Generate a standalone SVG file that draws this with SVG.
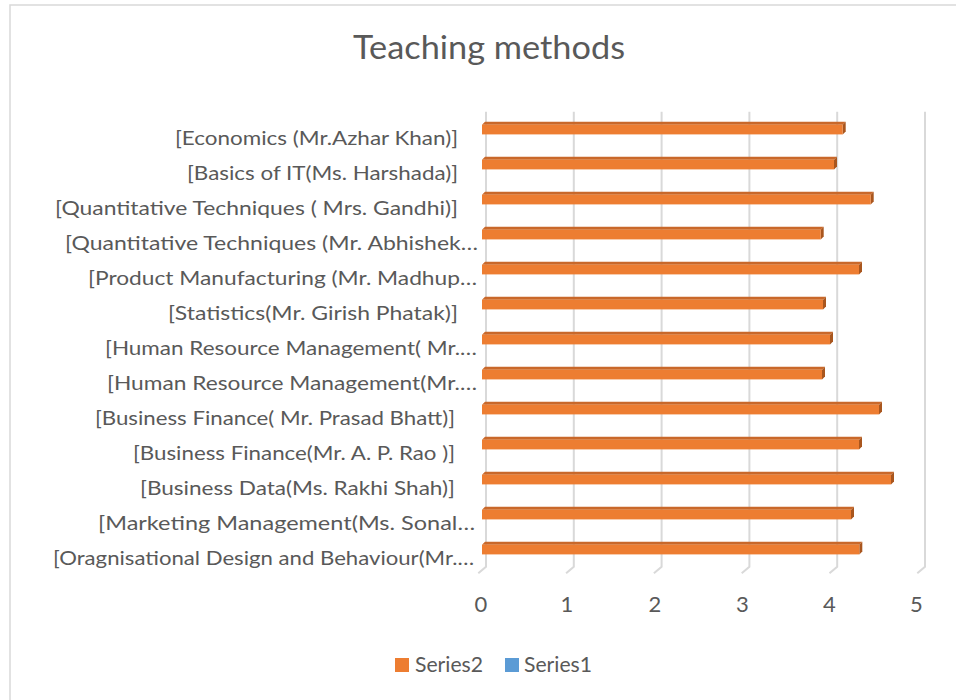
<svg xmlns="http://www.w3.org/2000/svg" width="956" height="700" viewBox="0 0 956 700">
<style>
.txt{font-family:Lato,"Open Sans","Liberation Sans",sans-serif;fill:#595959}
.lbl{font-size:20px}
.tick{font-size:22px;text-anchor:middle}
.grid{fill:none;stroke:#d9d9d9;stroke-width:2}
.front{fill:#ed7d31}
.top{fill:#c9682a}
.side{fill:#a9561e}
</style>
<rect x="10" y="5" width="1000" height="800" fill="#ffffff" stroke="#d9d9d9" stroke-width="1.5"/>
<g id="title"><text class="txt" x="353" y="59" font-size="33" textLength="272" lengthAdjust="spacingAndGlyphs">Teaching methods</text></g>
<g id="gridlines">
<path class="grid" d="M486 111.7V566.7L478.3 573.3"/>
<path class="grid" d="M573.8 111.7V566.7L566.1 573.3"/>
<path class="grid" d="M661.6 111.7V566.7L653.9 573.3"/>
<path class="grid" d="M749.4 111.7V566.7L741.7 573.3"/>
<path class="grid" d="M837.2 111.7V566.7L829.5 573.3"/>
<path class="grid" d="M925 111.7V566.7L917.3 573.3"/>
</g>
<g id="bars">
<g id="bar0" transform="translate(0,121.7)"><polygon class="top" points="482,3 485,0 845.7,0 842.7,3"/><polygon class="side" points="842.7,3 845.7,0 845.7,9.7 842.7,12.7"/><rect class="front" x="482" y="3" width="360.7" height="9.7"/></g>
<g id="bar1" transform="translate(0,156.7)"><polygon class="top" points="482,3 485,0 837,0 834,3"/><polygon class="side" points="834,3 837,0 837,9.7 834,12.7"/><rect class="front" x="482" y="3" width="352" height="9.7"/></g>
<g id="bar2" transform="translate(0,191.7)"><polygon class="top" points="482,3 485,0 873.7,0 870.7,3"/><polygon class="side" points="870.7,3 873.7,0 873.7,9.7 870.7,12.7"/><rect class="front" x="482" y="3" width="388.7" height="9.7"/></g>
<g id="bar3" transform="translate(0,226.7)"><polygon class="top" points="482,3 485,0 823.7,0 820.7,3"/><polygon class="side" points="820.7,3 823.7,0 823.7,9.7 820.7,12.7"/><rect class="front" x="482" y="3" width="338.7" height="9.7"/></g>
<g id="bar4" transform="translate(0,261.7)"><polygon class="top" points="482,3 485,0 862,0 859,3"/><polygon class="side" points="859,3 862,0 862,9.7 859,12.7"/><rect class="front" x="482" y="3" width="377" height="9.7"/></g>
<g id="bar5" transform="translate(0,296.7)"><polygon class="top" points="482,3 485,0 826,0 823,3"/><polygon class="side" points="823,3 826,0 826,9.7 823,12.7"/><rect class="front" x="482" y="3" width="341" height="9.7"/></g>
<g id="bar6" transform="translate(0,331.7)"><polygon class="top" points="482,3 485,0 833,0 830,3"/><polygon class="side" points="830,3 833,0 833,9.7 830,12.7"/><rect class="front" x="482" y="3" width="348" height="9.7"/></g>
<g id="bar7" transform="translate(0,366.7)"><polygon class="top" points="482,3 485,0 825,0 822,3"/><polygon class="side" points="822,3 825,0 825,9.7 822,12.7"/><rect class="front" x="482" y="3" width="340" height="9.7"/></g>
<g id="bar8" transform="translate(0,401.7)"><polygon class="top" points="482,3 485,0 882,0 879,3"/><polygon class="side" points="879,3 882,0 882,9.7 879,12.7"/><rect class="front" x="482" y="3" width="397" height="9.7"/></g>
<g id="bar9" transform="translate(0,436.7)"><polygon class="top" points="482,3 485,0 862,0 859,3"/><polygon class="side" points="859,3 862,0 862,9.7 859,12.7"/><rect class="front" x="482" y="3" width="377" height="9.7"/></g>
<g id="bar10" transform="translate(0,471.7)"><polygon class="top" points="482,3 485,0 894,0 891,3"/><polygon class="side" points="891,3 894,0 894,9.7 891,12.7"/><rect class="front" x="482" y="3" width="409" height="9.7"/></g>
<g id="bar11" transform="translate(0,506.7)"><polygon class="top" points="482,3 485,0 854,0 851,3"/><polygon class="side" points="851,3 854,0 854,9.7 851,12.7"/><rect class="front" x="482" y="3" width="369" height="9.7"/></g>
<g id="bar12" transform="translate(0,541.7)"><polygon class="top" points="482,3 485,0 862.3,0 859.3,3"/><polygon class="side" points="859.3,3 862.3,0 862.3,9.7 859.3,12.7"/><rect class="front" x="482" y="3" width="377.3" height="9.7"/></g>
</g>
<g id="category-labels" class="txt lbl">
<text x="175" y="145" textLength="283" lengthAdjust="spacingAndGlyphs">[Economics (Mr.Azhar Khan)]</text>
<text x="187" y="180" textLength="271" lengthAdjust="spacingAndGlyphs">[Basics of IT(Ms. Harshada)]</text>
<text x="55" y="215" textLength="403" lengthAdjust="spacingAndGlyphs">[Quantitative Techniques ( Mrs. Gandhi)]</text>
<text x="65" y="250" textLength="413" lengthAdjust="spacingAndGlyphs">[Quantitative Techniques (Mr. Abhishek…</text>
<text x="88" y="285" textLength="389" lengthAdjust="spacingAndGlyphs">[Product Manufacturing (Mr. Madhup…</text>
<text x="168" y="320" textLength="290" lengthAdjust="spacingAndGlyphs">[Statistics(Mr. Girish Phatak)]</text>
<text x="105" y="355" textLength="372" lengthAdjust="spacingAndGlyphs">[Human Resource Management( Mr.…</text>
<text x="107" y="390" textLength="370" lengthAdjust="spacingAndGlyphs">[Human Resource Management(Mr.…</text>
<text x="95" y="425" textLength="360" lengthAdjust="spacingAndGlyphs">[Business Finance( Mr. Prasad Bhatt)]</text>
<text x="133" y="460" textLength="322" lengthAdjust="spacingAndGlyphs">[Business Finance(Mr. A. P. Rao )]</text>
<text x="140" y="495" textLength="315" lengthAdjust="spacingAndGlyphs">[Business Data(Ms. Rakhi Shah)]</text>
<text x="98" y="530" textLength="377" lengthAdjust="spacingAndGlyphs">[Marketing Management(Ms. Sonal…</text>
<text x="53" y="565" textLength="421" lengthAdjust="spacingAndGlyphs">[Oragnisational Design and Behaviour(Mr.…</text>
</g>
<g id="value-axis" class="txt tick">
<text x="481" y="612">0</text>
<text x="567" y="612">1</text>
<text x="655" y="612">2</text>
<text x="742.5" y="612">3</text>
<text x="829.5" y="612">4</text>
<text x="916.5" y="612">5</text>
</g>
<g id="legend">
<rect x="395" y="658" width="14" height="14" fill="#ed7d31"/>
<text class="txt" x="415" y="672" font-size="21" textLength="68" lengthAdjust="spacingAndGlyphs">Series2</text>
<rect x="505" y="658" width="14" height="14" fill="#5b9bd5"/>
<text class="txt" x="524" y="672" font-size="21" textLength="68" lengthAdjust="spacingAndGlyphs">Series1</text>
</g>
</svg>
